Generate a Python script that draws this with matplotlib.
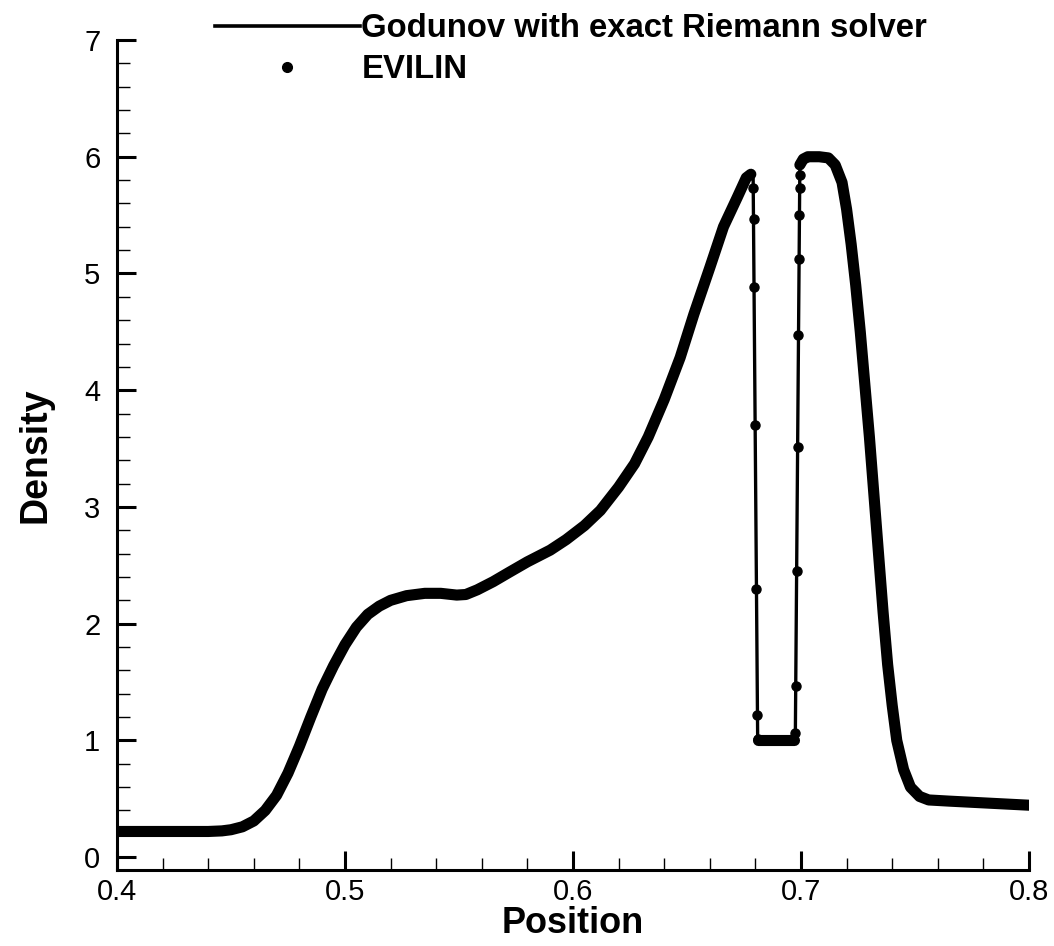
import matplotlib
matplotlib.use('Agg')
import matplotlib.pyplot as plt
from matplotlib.lines import Line2D
from matplotlib.ticker import MultipleLocator

plt.rcParams['font.family'] = ['Liberation Sans', 'DejaVu Sans']

# smooth part left of the spike
x_left = [0.400, 0.420, 0.440, 0.446, 0.450, 0.455, 0.460, 0.465, 0.470, 0.475,
          0.480, 0.485, 0.490, 0.495, 0.500, 0.505, 0.510, 0.515, 0.520, 0.527,
          0.535, 0.542, 0.549, 0.553, 0.558, 0.565, 0.572, 0.580, 0.590, 0.597,
          0.605, 0.612, 0.620, 0.627, 0.633, 0.640, 0.647, 0.653, 0.660, 0.666,
          0.672, 0.676, 0.678]
rho_left = [0.22, 0.22, 0.22, 0.225, 0.235, 0.26, 0.31, 0.40, 0.53, 0.72,
            0.95, 1.20, 1.44, 1.64, 1.82, 1.97, 2.08, 2.15, 2.20, 2.24,
            2.26, 2.26, 2.245, 2.25, 2.29, 2.36, 2.44, 2.53, 2.63, 2.72,
            2.84, 2.97, 3.17, 3.37, 3.60, 3.92, 4.28, 4.65, 5.05, 5.40,
            5.65, 5.82, 5.85]

# low plateau between the two jumps
x_mid = [0.681, 0.685, 0.690, 0.694, 0.697]
rho_mid = [1.0, 1.0, 1.0, 1.0, 1.0]

# high plateau and the falling side
x_right = [0.6995, 0.701, 0.703, 0.708, 0.712, 0.715, 0.718, 0.720, 0.722, 0.724,
           0.726, 0.728, 0.730, 0.732, 0.734, 0.736, 0.738, 0.740, 0.742, 0.745,
           0.748, 0.752, 0.756, 0.765, 0.780, 0.790, 0.800]
rho_right = [5.93, 5.98, 6.0, 6.0, 5.99, 5.93, 5.78, 5.55, 5.25, 4.90,
             4.50, 4.05, 3.60, 3.10, 2.60, 2.10, 1.65, 1.30, 1.00, 0.75,
             0.60, 0.52, 0.49, 0.48, 0.465, 0.455, 0.445]

# EVILIN points inside the two jumps
x_jump1 = [0.6790, 0.6793, 0.6796, 0.6800, 0.6804, 0.6807, 0.6810]
rho_jump1 = [5.73, 5.47, 4.88, 3.70, 2.30, 1.22, 1.01]
x_jump2 = [0.6975, 0.6978, 0.6982, 0.6985, 0.6988, 0.6991, 0.6993, 0.6994, 0.6995]
rho_jump2 = [1.06, 1.47, 2.45, 3.51, 4.47, 5.12, 5.50, 5.73, 5.84]

god_x = x_left + [0.6790, 0.6810] + x_mid + [0.6975] + x_right
god_rho = rho_left + [5.85, 1.0] + rho_mid + [1.0] + rho_right

fig = plt.figure(figsize=(10.54, 9.46), dpi=100)
ax = fig.add_axes([117/1054, 76/946, 912/1054, 830/946])

# exact solution: thin line
ax.plot(god_x, god_rho, color='black', lw=2.4, zorder=3)

# EVILIN: dense points drawn as thick band, sparse points as dots
for xs, ys in [(x_left, rho_left), (x_mid, rho_mid), (x_right, rho_right)]:
    ax.plot(xs, ys, color='black', lw=8, solid_capstyle='round',
            solid_joinstyle='round', zorder=4)
ax.plot(x_jump1 + x_jump2, rho_jump1 + rho_jump2, 'o', color='black', ms=6.5, zorder=5)

ax.set_xlim(0.4, 0.8)
ax.set_ylim(-0.11, 7.0)

for s in ['top', 'right']:
    ax.spines[s].set_visible(False)
for s in ['left', 'bottom']:
    ax.spines[s].set_linewidth(2.2)

ax.xaxis.set_major_locator(MultipleLocator(0.1))
ax.xaxis.set_minor_locator(MultipleLocator(0.02))
ax.yaxis.set_major_locator(MultipleLocator(1))
ax.yaxis.set_minor_locator(MultipleLocator(0.2))
ax.tick_params(which='major', direction='in', length=14, width=2.2, labelsize=21, pad=6)
ax.tick_params(which='minor', direction='in', length=9, width=1.0)
ax.tick_params(axis='y', which='major', pad=12)
ax.set_xticks([0.4, 0.5, 0.6, 0.7, 0.8])
ax.set_xticklabels(['0.4', '0.5', '0.6', '0.7', '0.8'])

ax.set_xlabel('Position', fontsize=26, fontweight='bold', labelpad=0)
ax.set_ylabel('Density', fontsize=27, fontweight='bold', labelpad=22)

handles = [Line2D([], [], color='black', lw=2.6),
           Line2D([], [], color='black', ls='none', marker='o', ms=7)]
fig.legend(handles, ['Godunov with exact Riemann solver', 'EVILIN'],
           loc='upper left', bbox_to_anchor=(215/1054, 0.986), frameon=False,
           prop={'weight': 'bold', 'size': 23.7}, handlelength=4.4,
           handletextpad=0.05, borderpad=0, borderaxespad=0, labelspacing=0.3)

fig.savefig('out.png', dpi=100, facecolor='white')
